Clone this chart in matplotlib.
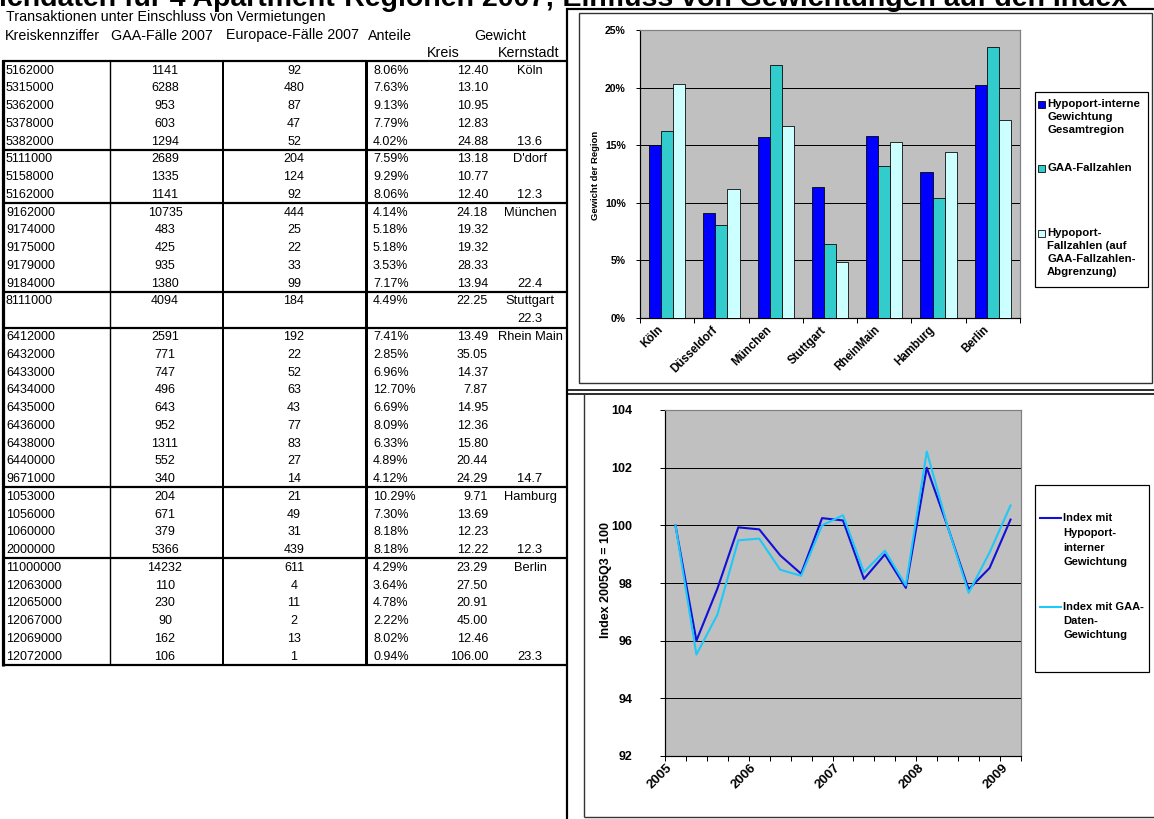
import matplotlib
matplotlib.use("Agg")
import matplotlib.pyplot as plt
from matplotlib.patches import Rectangle
from matplotlib.transforms import offset_copy
import numpy as np

W, H = 1154, 819
plt.rcParams['font.family'] = ['Liberation Sans', 'DejaVu Sans']

# ---------------- table data ----------------
codes = ["5162000", "5315000", "5362000", "5378000", "5382000",
         "5111000", "5158000", "5162000",
         "9162000", "9174000", "9175000", "9179000", "9184000",
         "8111000", "",
         "6412000", "6432000", "6433000", "6434000", "6435000", "6436000",
         "6438000", "6440000", "9671000",
         "1053000", "1056000", "1060000", "2000000",
         "11000000", "12063000", "12065000", "12067000", "12069000", "12072000"]
gaa_cases = [1141, 6288, 953, 603, 1294,
             2689, 1335, 1141,
             10735, 483, 425, 935, 1380,
             4094, None,
             2591, 771, 747, 496, 643, 952, 1311, 552, 340,
             204, 671, 379, 5366,
             14232, 110, 230, 90, 162, 106]
europace_cases = [92, 480, 87, 47, 52,
                  204, 124, 92,
                  444, 25, 22, 33, 99,
                  184, None,
                  192, 22, 52, 63, 43, 77, 83, 27, 14,
                  21, 49, 31, 439,
                  611, 4, 11, 2, 13, 1]
shares = [8.06, 7.63, 9.13, 7.79, 4.02,
          7.59, 9.29, 8.06,
          4.14, 5.18, 5.18, 3.53, 7.17,
          4.49, None,
          7.41, 2.85, 6.96, 12.70, 6.69, 8.09, 6.33, 4.89, 4.12,
          10.29, 7.30, 8.18, 8.18,
          4.29, 3.64, 4.78, 2.22, 8.02, 0.94]
kreis_weights = [12.40, 13.10, 10.95, 12.83, 24.88,
                 13.18, 10.77, 12.40,
                 24.18, 19.32, 19.32, 28.33, 13.94,
                 22.25, None,
                 13.49, 35.05, 14.37, 7.87, 14.95, 12.36, 15.80, 20.44, 24.29,
                 9.71, 13.69, 12.23, 12.22,
                 23.29, 27.50, 20.91, 45.00, 12.46, 106.00]
kernstadt = ["Köln", "", "", "", "13.6",
             "D'dorf", "", "12.3",
             "München", "", "", "", "22.4",
             "Stuttgart", "22.3",
             "Rhein Main", "", "", "", "", "", "", "", "14.7",
             "Hamburg", "", "", "12.3",
             "Berlin", "", "", "", "", "23.3"]
group_sizes = [5, 3, 5, 2, 9, 4, 6]

title = "Eichdaten für 4 Apartment-Regionen 2007; Einfluss von Gewichtungen auf den Index"

# ---------------- bar chart data ----------------
regions = ["Köln", "Düsseldorf", "München", "Stuttgart", "RheinMain", "Hamburg", "Berlin"]
w_intern = [15.05, 9.1, 15.7, 11.4, 15.8, 12.7, 20.2]
w_gaa = [16.2, 8.1, 22.0, 6.4, 13.2, 10.4, 23.5]
w_hypo = [20.3, 11.2, 16.7, 4.9, 15.3, 14.4, 17.2]
bar_labels = ["Hypoport-interne\nGewichtung\nGesamtregion",
              "GAA-Fallzahlen",
              "Hypoport-\nFallzahlen (auf\nGAA-Fallzahlen-\nAbgrenzung)"]

# ---------------- index series (quarterly, 2005Q3 = 100) ----------------
years = ["2005", "2006", "2007", "2008", "2009"]
idx_intern = [100.0, 96.0, 97.8, 99.93, 99.86, 98.96, 98.32, 100.25, 100.17,
              98.14, 98.99, 97.83, 102.0, 99.95, 97.78, 98.52, 100.2]
idx_gaa = [100.0, 95.52, 96.9, 99.48, 99.54, 98.46, 98.25, 100.0, 100.35,
           98.38, 99.12, 97.92, 102.56, 99.95, 97.66, 99.06, 100.69]
line_labels = ["Index mit\nHypoport-\ninterner\nGewichtung",
               "Index mit GAA-\nDaten-\nGewichtung"]

C_BLUE = "#0000FF"
C_TEAL = "#33CCCC"
C_PALE = "#CCFFFF"
C_LINE1 = "#1010D8"
C_LINE2 = "#1EC8F8"
PLOT_BG = "#C0C0C0"
PX = 0.72  # one pixel in points at 100 dpi

fig = plt.figure(figsize=(W / 100, H / 100), dpi=100)
fig.patch.set_facecolor("white")

# page layer in pixel units for the table and the frames
page = fig.add_axes([0, 0, 1, 1], zorder=0)
page.set_xlim(0, W)
page.set_ylim(H, 0)
page.axis("off")


def hline(y, x0, x1, px=1.0, color="black"):
    page.plot([x0, x1], [y, y], color=color, lw=px * PX, solid_capstyle="butt")


def vline(x, y0, y1, px=1.0, color="black"):
    page.plot([x, x], [y0, y1], color=color, lw=px * PX, solid_capstyle="butt")


# title (runs off the top edge of the page)
page.text(1127, 6, title, ha="right", va="baseline", fontsize=20.5, fontweight="bold")
hline(8.5, 566, W, 2.2)

# ---------------- table ----------------
FS = 9
FH = 10.3
row_h = 17.76
t_top = 61.2
n_rows = len(codes)
t_bot = t_top + n_rows * row_h

page.text(6, 17.5, "Transaktionen unter Einschluss von Vermietungen", fontsize=FH, va="center")
hy = 35.5
page.text(5, hy, "Kreiskennziffer", fontsize=FH, va="center")
page.text(111, hy, "GAA-Fälle 2007", fontsize=FH, va="center")
page.text(226, hy, "Europace-Fälle 2007", fontsize=FH, va="center")
page.text(368, hy, "Anteile", fontsize=FH, va="center")
page.text(500, hy, "Gewicht", fontsize=FH, va="center", ha="center")
page.text(443, 53, "Kreis", fontsize=FH, va="center", ha="center")
page.text(529, 53, "Kernstadt", fontsize=FH, va="center", ha="center")

for i in range(n_rows):
    yc = t_top + (i + 0.5) * row_h + 0.5
    page.text(6, yc, codes[i], fontsize=FS, va="center")
    if gaa_cases[i] is not None:
        page.text(165, yc, f"{gaa_cases[i]}", fontsize=FS, va="center", ha="center")
        page.text(294, yc, f"{europace_cases[i]}", fontsize=FS, va="center", ha="center")
        page.text(373, yc, f"{shares[i]:.2f}%", fontsize=FS, va="center")
        page.text(488, yc, f"{kreis_weights[i]:.2f}", fontsize=FS, va="center", ha="right")
    if kernstadt[i]:
        page.text(530, yc, kernstadt[i], fontsize=9.3, va="center", ha="center")

hline(t_top, 2, 567, 2.2)
acc = 0
for g in group_sizes:
    acc += g
    hline(t_top + acc * row_h, 2, 567, 2.2)
vline(3, t_top - 1, t_bot + 1, 3.2)
vline(109.5, t_top, t_bot, 1.4)
vline(222.5, t_top, t_bot, 2.0)
vline(365.5, t_top, t_bot, 3.0)
vline(566.5, 8, H, 2.2)

# ---------------- frames of the chart panels ----------------
page.add_patch(Rectangle((579, 13), 573, 370, fill=False, ec="#333333", lw=1.4 * PX))
hline(389.5, 566, W, 1.6)
hline(393.5, 566, W, 1.6)
vline(584, 393, 817, 1.4, "#333333")
hline(817, 584, W, 1.4, "#333333")


def style_axes(ax):
    ax.set_facecolor(PLOT_BG)
    ax.yaxis.grid(True, color="black", lw=1.0 * PX)
    ax.set_axisbelow(True)
    for s in ["left", "bottom"]:
        ax.spines[s].set_color("black")
        ax.spines[s].set_linewidth(1.2 * PX)
    for s in ["top", "right"]:
        ax.spines[s].set_color("#808080")
        ax.spines[s].set_linewidth(1.2 * PX)


def category_labels(ax, pos, labels, size, dx, dy):
    tr = offset_copy(ax.get_xaxis_transform(), fig=fig, x=dx, y=dy, units="dots")
    for p, lab in zip(pos, labels):
        ax.text(p, 0, lab, transform=tr, rotation=45, rotation_mode="anchor",
                ha="right", va="top", fontsize=size, fontweight="bold", clip_on=False)


# ---------------- bar chart ----------------
ax1 = fig.add_axes([640 / W, 1 - 318 / H, 380 / W, 288 / H], zorder=2)
style_axes(ax1)
x = np.arange(len(regions))
bw = 1 / 4.5
for off, vals, col in [(-bw, w_intern, C_BLUE), (0, w_gaa, C_TEAL), (bw, w_hypo, C_PALE)]:
    ax1.bar(x + off, vals, bw, color=col, edgecolor="black", linewidth=0.8 * PX, zorder=3)
ax1.set_xlim(-0.5, len(regions) - 0.5)
ax1.set_ylim(0, 25)
ax1.set_yticks(np.arange(0, 26, 5))
ax1.set_yticklabels([f"{v}%" for v in range(0, 26, 5)], fontsize=7.5, fontweight="bold")
ax1.set_xticks(np.arange(-0.5, len(regions)), labels=[""] * (len(regions) + 1))
ax1.tick_params(axis="x", direction="out", length=3.6, width=1 * PX)
ax1.tick_params(axis="y", direction="out", length=3.2, width=1 * PX, pad=7)
category_labels(ax1, x, regions, 8.3, -10, -6)
page.text(596, 175, "Gewicht der Region", rotation=90, ha="center", va="center",
          fontsize=6.8, fontweight="bold")

# legend of the bar chart
page.add_patch(Rectangle((1035, 92), 113, 195, fc="white", ec="black", lw=1.2 * PX, zorder=3))
leg_rows = [[104, 117, 130], [168], [233, 246, 259, 272]]
for lab, col, ys in zip(bar_labels, [C_BLUE, C_TEAL, C_PALE], leg_rows):
    page.add_patch(Rectangle((1038, ys[0] - 3.5), 7, 7, fc=col, ec="black", lw=0.8 * PX, zorder=4))
    for line, yy in zip(lab.split("\n"), ys):
        page.text(1047, yy, line, fontsize=8.2, fontweight="bold", va="center", zorder=4)

# ---------------- index line chart ----------------
ax2 = fig.add_axes([665 / W, 1 - 756 / H, 356 / W, 346 / H], zorder=2)
style_axes(ax2)
q = np.arange(len(idx_intern))
ax2.plot(q, idx_intern, color=C_LINE1, lw=1.5, zorder=3)
ax2.plot(q, idx_gaa, color=C_LINE2, lw=1.5, zorder=3)
ax2.set_xlim(-0.5, len(q) - 0.5)
ax2.set_ylim(92, 104)
ax2.set_yticks(np.arange(92, 105, 2))
ax2.set_yticklabels([str(v) for v in range(92, 105, 2)], fontsize=9, fontweight="bold")
ax2.set_xticks(np.arange(-0.5, len(q)), labels=[""] * (len(q) + 1))
ax2.tick_params(axis="x", direction="out", length=3.6, width=1 * PX)
ax2.tick_params(axis="y", direction="out", length=3.6, width=1 * PX, pad=20)
category_labels(ax2, q[::4], years, 9.5, -9, -6)
page.text(606, 580, "Index 2005Q3 = 100", rotation=90, ha="center", va="center",
          fontsize=9, fontweight="bold")

# legend of the line chart
page.add_patch(Rectangle((1035, 485), 114, 187, fc="white", ec="black", lw=1.2 * PX, zorder=3))
leg2_rows = [[518, 533, 548, 562], [607, 621, 635]]
for lab, col, ys in zip(line_labels, [C_LINE1, C_LINE2], leg2_rows):
    page.plot([1040, 1061], [ys[0], ys[0]], color=col, lw=1.5, zorder=4)
    for line, yy in zip(lab.split("\n"), ys):
        page.text(1063, yy, line, fontsize=8, fontweight="bold", va="center", zorder=4)

fig.savefig("out.png", dpi=100)
